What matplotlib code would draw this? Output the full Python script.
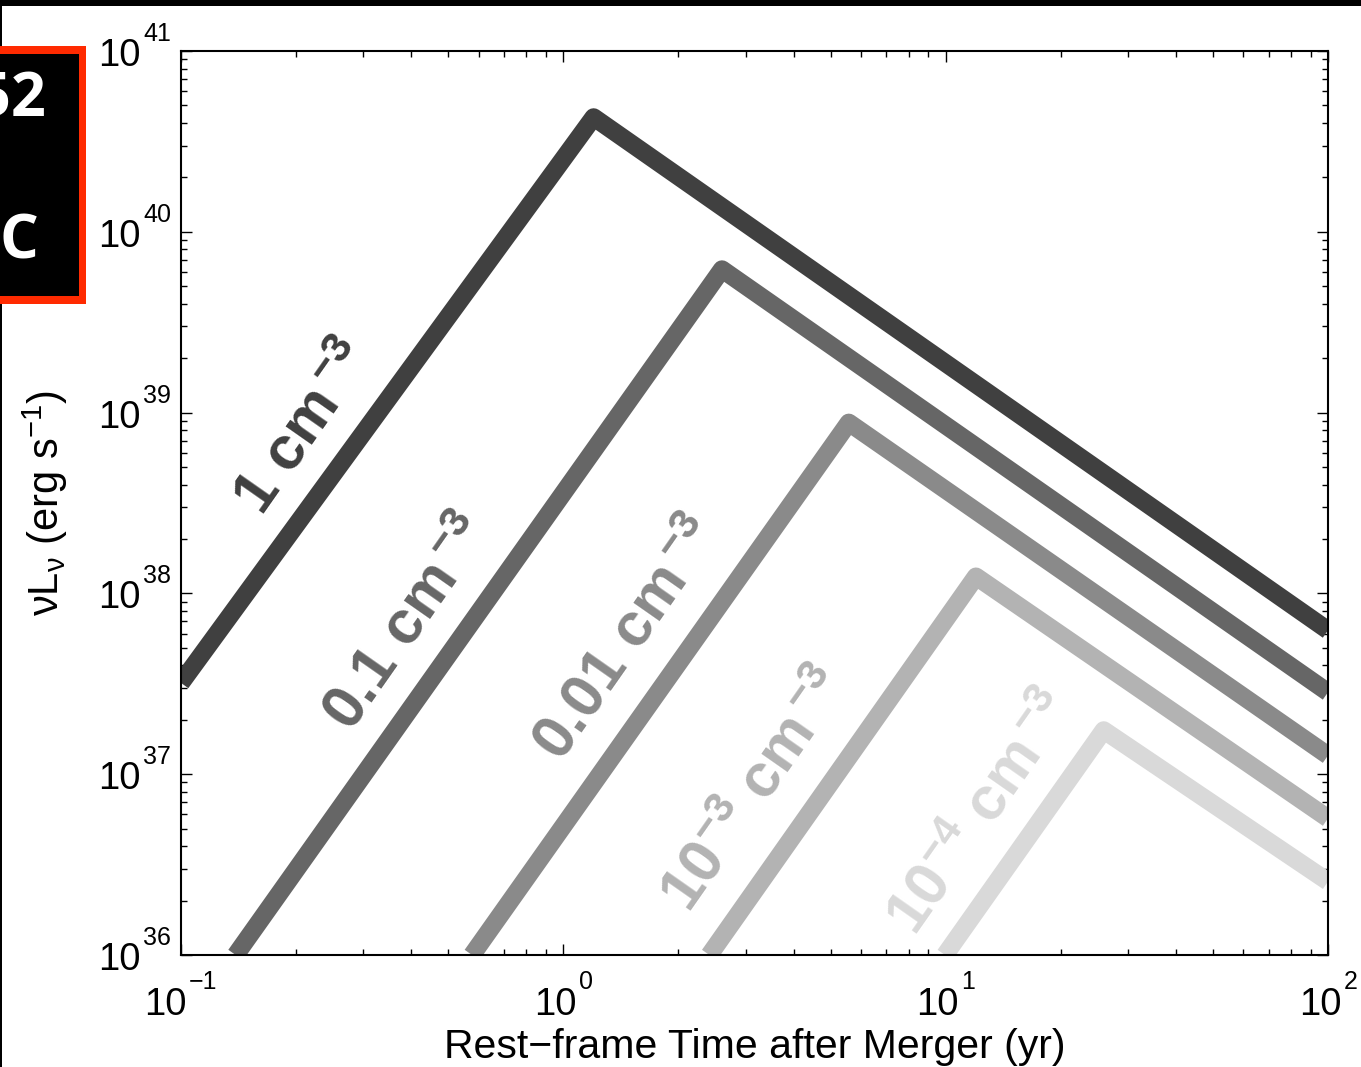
import matplotlib
matplotlib.use('Agg')
import matplotlib.pyplot as plt
from matplotlib.patches import Rectangle
from matplotlib.ticker import LogLocator, NullFormatter

plt.rcParams['font.family'] = ['Liberation Sans', 'DejaVu Sans']
plt.rcParams['mathtext.fontset'] = 'custom'
plt.rcParams['mathtext.rm'] = 'Liberation Sans'
plt.rcParams['mathtext.it'] = 'Liberation Sans:italic'
plt.rcParams['mathtext.bf'] = 'Liberation Sans:bold'

# density labels and line colours
labels = [r'$\mathbf{1\ cm}^{\,\mathbf{-3}}$', r'$\mathbf{0.1\ cm}^{\,\mathbf{-3}}$',
          r'$\mathbf{0.01\ cm}^{\,\mathbf{-3}}$', r'$\mathbf{10^{-3}\ cm}^{\,\mathbf{-3}}$',
          r'$\mathbf{10^{-4}\ cm}^{\,\mathbf{-3}}$']
colors = ['#404040', '#666666', '#8a8a8a', '#b3b3b3', '#d9d9d9']

# broken power-law light curves: start, peak, end
t_start = [0.1, 0.139, 0.577, 2.41, 9.96]
L_start = [3.2e37, 1e36, 1e36, 1e36, 1e36]
t_peak = [1.20, 2.60, 5.58, 12.0, 25.9]
L_peak = [4.3e40, 6.2e39, 8.8e38, 1.24e38, 1.75e37]
t_end = [100, 100, 100, 100, 100]
L_end = [6.25e37, 2.84e37, 1.27e37, 5.7e36, 2.55e36]

# label anchor points
label_t = [0.211, 0.395, 1.48, 3.21, 12.5]
label_L = [8.1e38, 6.8e37, 5.5e37, 8.1e36, 6.0e36]

# tick exponents
x_exp = [-1, 0, 1, 2]
y_exp = [36, 37, 38, 39, 40, 41]

W, H = 1361, 1067
fig = plt.figure(figsize=(W / 100, H / 100), dpi=100)
ax = fig.add_axes([181 / W, 1 - 955 / H, (1328 - 181) / W, (955 - 51) / H])

for i in range(len(labels)):
    ax.plot([t_start[i], t_peak[i], t_end[i]], [L_start[i], L_peak[i], L_end[i]],
            color=colors[i], lw=13, solid_capstyle='butt', solid_joinstyle='round')
    ax.text(label_t[i], label_L[i], labels[i], color=colors[i], fontsize=44,
            rotation=55, ha='center', va='center', rotation_mode='anchor')

ax.set_xscale('log')
ax.set_yscale('log')
ax.set_xlim(0.1, 100)
ax.set_ylim(1e36, 1e41)
ax.xaxis.set_major_locator(LogLocator(base=10, numticks=10))
ax.yaxis.set_major_locator(LogLocator(base=10, numticks=10))
ax.xaxis.set_major_formatter(NullFormatter())
ax.yaxis.set_major_formatter(NullFormatter())
ax.xaxis.set_minor_formatter(NullFormatter())
ax.yaxis.set_minor_formatter(NullFormatter())
ax.tick_params(which='both', direction='in', top=True, right=True, width=1)
ax.tick_params(which='major', length=8)
ax.tick_params(which='minor', length=4)
for s in ax.spines.values():
    s.set_linewidth(1.5)


def sup(e):
    return str(e).replace('-', '\u2212')


# MATLAB style tick labels: "10" with a high exponent
renderer = fig.canvas.get_renderer()
for e in x_exp:
    base = ax.annotate('10', xy=(10.0 ** e, 0), xycoords=('data', 'axes fraction'),
                       xytext=(0, -60), textcoords='offset pixels', fontsize=27.5,
                       ha='left', va='baseline', annotation_clip=False)
    ex = ax.annotate(sup(e), xy=(10.0 ** e, 0), xycoords=('data', 'axes fraction'),
                     xytext=(0, -34), textcoords='offset pixels', fontsize=18,
                     ha='left', va='baseline', annotation_clip=False)
    wb = base.get_window_extent(renderer).width
    we = ex.get_window_extent(renderer).width
    total = wb + 2 + we
    base.xyann = (-total / 2, -60)
    ex.xyann = (-total / 2 + wb + 2, -34)

for e in y_exp:
    ax.annotate('10', xy=(0, 10.0 ** e), xycoords=('axes fraction', 'data'),
                xytext=(-40, -15), textcoords='offset pixels', fontsize=27.5,
                ha='right', va='baseline', annotation_clip=False)
    ax.annotate(sup(e), xy=(0, 10.0 ** e), xycoords=('axes fraction', 'data'),
                xytext=(-38, 10), textcoords='offset pixels', fontsize=18,
                ha='left', va='baseline', annotation_clip=False)

ax.set_xlabel('Rest\u2212frame Time after Merger (yr)', fontsize=29.5, va='baseline')
ax.xaxis.set_label_coords(0.5, -103 / 904)
ax.set_ylabel(r'νL$_{\mathrm{ν}}$ (erg s$^{-1}$)', fontsize=30, va='center')
ax.yaxis.set_label_coords(-136 / 1147, 0.5)

# page furniture around the chart
fig.add_artist(Rectangle((0, 1 - 6 / H), 1, 6 / H, transform=fig.transFigure,
                         facecolor='black', edgecolor='none'))
fig.add_artist(Rectangle((0, 0), 2 / W, 1, transform=fig.transFigure,
                         facecolor='black', edgecolor='none'))
fig.add_artist(Rectangle((0, 1 - 304 / H), 86 / W, 258 / H, transform=fig.transFigure,
                         facecolor='#ff2a00', edgecolor='none'))
fig.add_artist(Rectangle((0, 1 - 296 / H), 79 / W, 242 / H, transform=fig.transFigure,
                         facecolor='black', edgecolor='none'))
fig.text(46 / W, 1 - 101 / H, '52', color='white', fontsize=44, fontweight='bold',
         family='Open Sans', ha='right', va='center')
fig.text(38 / W, 1 - 243 / H, 'C', color='white', fontsize=44, fontweight='bold',
         family='Open Sans', ha='right', va='center')

fig.savefig('out.png', dpi=100)
